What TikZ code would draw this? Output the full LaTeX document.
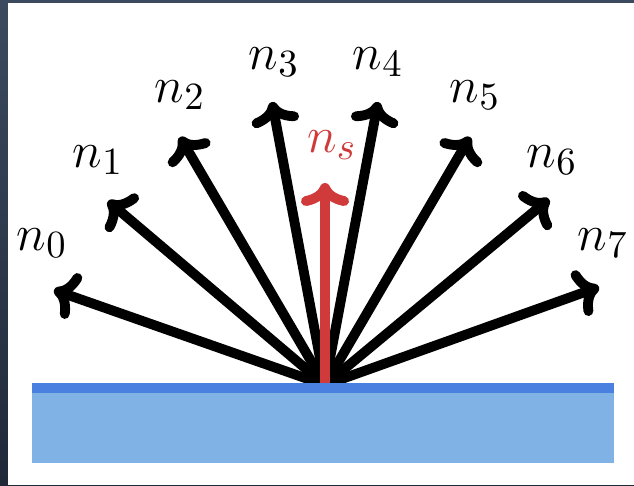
\documentclass[tikz,border=0pt]{standalone}
\usetikzlibrary{arrows.meta}
\definecolor{frametop}{HTML}{3C4A60}
\definecolor{framebot}{HTML}{1F2938}
\definecolor{surface}{HTML}{80B2E5}
\definecolor{surfacetop}{HTML}{4A80E0}
\definecolor{nred}{HTML}{D03A3A}
\DeclareMathSizes{13.5}{13.5}{11}{9}
\begin{document}
\begin{tikzpicture}[x=0.01cm, y=-0.01cm, font=\fontsize{13.5}{16}\selectfont,
  normal/.style={line width=2.8pt, line cap=round,
    -{Computer Modern Rightarrow[round,length=2.3mm,width=4.8mm]}}]
  % === Rahmen ===
  \shade[top color=frametop, bottom color=framebot] (0,0) rectangle (634,485);
  \fill[white] (8,3) rectangle (634,485);
  \useasboundingbox (0,0) rectangle (634,485);
  \coordinate (o) at (325,385);
  % === Normalen n_0 ... n_7 ===
  \foreach \i/\tx/\ty/\lx/\ly in {0/54/290/42/243, 1/108/201/98/160,
      2/180/137/180/95, 3/272/102/274/62, 4/378/102/378/62,
      5/470/137/475/95, 6/549/199/552/160, 7/599/287/603/243}
  {
    \coordinate (t\i) at (\tx,\ty);
    \node (l\i) at (\lx,\ly) {$n_\i$};
    \draw[normal] (o) -- (t\i);
  }
  % === mittlere Normale n_s ===
  \coordinate (ts) at (325,183);
  \draw[normal, nred] (o) -- (ts);
  \node[nred] (ls) at (332,145) {$n_s$};
  % === Oberflaeche ===
  \fill[surface] (32,383) rectangle (614,463);
  \fill[surfacetop] (32,383) rectangle (614,393);
\end{tikzpicture}
\end{document}
